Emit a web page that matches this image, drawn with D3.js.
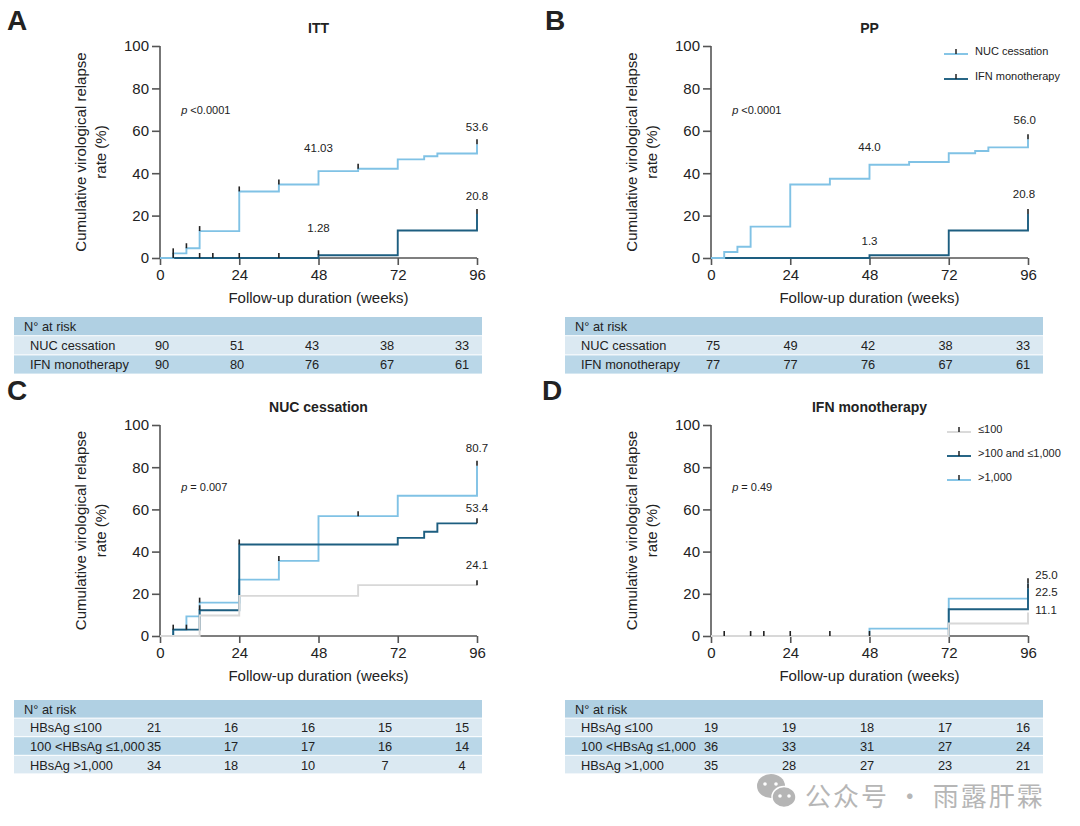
<!DOCTYPE html>
<html><head><meta charset="utf-8">
<script src="https://cdn.jsdelivr.net/npm/d3@7"></script>
<style>
body{margin:0;background:#fff;}
svg{display:block;font-family:"Liberation Sans",Arial,sans-serif;}
</style></head>
<body><svg id="chart" width="1080" height="826"></svg>
<script>
// ---------- data ----------
const weekTicks = [0, 24, 48, 72, 96];
const pctTicks = [0, 20, 40, 60, 80, 100];

// Panel A (ITT) step curves [week, cumulative %]
const A_nuc = [[0,0],[4,2.2],[8,4.6],[12,12.7],[24,31.4],[36,34.7],[48,41.0],[60,42.1],[72,46.5],[80,48.0],[84,49.3],[96,53.6]];
const A_nucCensor = [4,8,12,24,36,60,96];
const A_ifn = [[0,0],[48,1.28],[72,13.0],[96,20.8]];
const A_ifnCensor = [4,12,16,24,36,48,96];
const A_labels = [[48,52,"41.03"],[96,61.8,"53.6"],[96,29.2,"20.8"],[48,14.2,"1.28"]];

// Panel B (PP)
const B_nuc = [[0,0],[4,2.8],[8,5.3],[12,14.8],[24,34.7],[36,37.4],[48,44.0],[60,45.3],[72,49.4],[80,50.5],[84,52.2],[96,56.0]];
const B_nucCensor = [96];
const B_ifn = [[0,0],[48,1.3],[72,13.0],[96,20.8]];
const B_ifnCensor = [96];
const B_labels = [[95,65,"56.0"],[48,52.4,"44.0"],[94.8,30.2,"20.8"],[48,8,"1.3"]];

// Panel C (NUC cessation by HBsAg)
const C_low = [[0,0],[12,9.7],[24,19.0],[60,24.1],[96,24.1]];
const C_lowCensor = [96];
const C_mid = [[0,0],[4,3.0],[12,12.2],[24,43.4],[72,46.5],[80,49.4],[84,53.4],[96,53.4]];
const C_midCensor = [4,8,12,24,96];
const C_high = [[0,0],[4,3.0],[8,9.3],[12,15.8],[24,26.7],[36,35.6],[48,56.8],[72,66.5],[96,80.7]];
const C_highCensor = [12,36,60,96];
const C_labels = [[96,89.1,"80.7"],[96,60.7,"53.4"],[96,33.6,"24.1"]];

// Panel D (IFN monotherapy by HBsAg)
const D_low = [[0,0],[72,5.9],[96,11.1]];
const D_lowCensor = [4,12,16,24,36,48];
const D_mid = [[0,0],[72,12.7],[96,22.5]];
const D_midCensor = [96];
const D_high = [[0,0],[48,3.5],[72,17.7],[96,25.0]];
const D_highCensor = [96];
const D_labels = [[98.2,28.9,"25.0"],[98.2,20.9,"22.5"],[98.2,12.3,"11.1"]];

// legends
const legendAB = ["NUC cessation", "IFN monotherapy"];
const legendCD = ["\u2264100", ">100 and \u22641,000", ">1,000"];

// numbers at risk
const riskA_nuc = [90,51,43,38,33];
const riskA_ifn = [90,80,76,67,61];
const riskB_nuc = [75,49,42,38,33];
const riskB_ifn = [77,77,76,67,61];
const riskC_low = [21,16,16,15,15];
const riskC_mid = [35,17,17,16,14];
const riskC_high = [34,18,10,7,4];
const riskD_low = [19,19,18,17,16];
const riskD_mid = [36,33,31,27,24];
const riskD_high = [35,28,27,23,21];
const riskLabelsAB = ["NUC cessation", "IFN monotherapy"];
const riskLabelsCD = ["HBsAg \u2264100", "100 <HBsAg \u22641,000", "HBsAg >1,000"];

// ---------- styles ----------
const LIGHT = "#80c2e5", DARK = "#1d5e80", GRAY = "#d8d8d8";
const AXIS = "#555", TXT = "#222";

const svg = d3.select("#chart");

function panel(cfg) {
  const g = svg.append("g");
  const x = d3.scaleLinear().domain([0, 96]).range([cfg.x0, cfg.x1]);
  const y = d3.scaleLinear().domain([0, 100]).range([cfg.yb, cfg.yt]);

  g.append("text").attr("x", cfg.lx).attr("y", cfg.ly).attr("font-size", 28).attr("font-weight", "bold").attr("fill", "#222").text(cfg.letter);
  g.append("text").attr("x", (cfg.x0 + cfg.x1) / 2).attr("y", cfg.yt - 13).attr("text-anchor", "middle").attr("font-size", 14).attr("font-weight", "bold").attr("fill", TXT).text(cfg.title);

  const ya = g.append("g").attr("transform", `translate(${cfg.x0},0)`).call(d3.axisLeft(y).tickValues(pctTicks).tickSize(8).tickPadding(3));
  const xa = g.append("g").attr("transform", `translate(0,${cfg.yb})`).call(d3.axisBottom(x).tickValues(weekTicks).tickSize(7).tickPadding(4));
  [ya, xa].forEach(a => {
    a.select(".domain").attr("stroke", AXIS).attr("stroke-width", 1.6);
    a.selectAll(".tick line").attr("stroke", AXIS).attr("stroke-width", 1.6);
    a.selectAll(".tick text").attr("fill", TXT).attr("font-size", 15).attr("font-family", "Liberation Sans, Arial, sans-serif");
  });
  xa.select(".domain").attr("d", `M${cfg.x0},0H${cfg.x1}`);
  ya.select(".domain").attr("d", `M0,${cfg.yb}V${cfg.yt}`);

  g.append("text").attr("x", (cfg.x0 + cfg.x1) / 2).attr("y", cfg.yb + 45).attr("text-anchor", "middle").attr("font-size", 15).attr("fill", TXT).text("Follow-up duration (weeks)");
  const ym = (cfg.yt + cfg.yb) / 2;
  const yt = g.append("text").attr("transform", `translate(${cfg.x0 - 74},${ym}) rotate(-90)`).attr("text-anchor", "middle").attr("font-size", 15).attr("fill", TXT);
  yt.append("tspan").attr("x", 0).attr("dy", 0).text("Cumulative virological relapse");
  yt.append("tspan").attr("x", 0).attr("dy", 20).text("rate (%)");

  const line = d3.line().curve(d3.curveStepAfter).x(d => x(d[0])).y(d => y(d[1]));
  function valAt(data, w) {
    let v = 0;
    data.forEach(d => { if (d[0] <= w) v = d[1]; });
    return v;
  }
  cfg.series.forEach(s => {
    g.append("path").datum(s.data).attr("d", line).attr("fill", "none").attr("stroke", s.color).attr("stroke-width", 1.9);
  });
  cfg.series.forEach(s => {
    g.selectAll(null).data(s.censor).enter().append("line")
      .attr("x1", d => x(d)).attr("x2", d => x(d))
      .attr("y1", d => y(valAt(s.data, d))).attr("y2", d => y(valAt(s.data, d)) - 5)
      .attr("stroke", "#222").attr("stroke-width", 1.6);
  });

  g.selectAll(null).data(cfg.labels).enter().append("text")
    .attr("x", d => x(d[0])).attr("y", d => y(d[1])).attr("dy", "0.35em")
    .attr("text-anchor", cfg.labelAnchor).attr("font-size", 11.5).attr("fill", TXT).text(d => d[2]);

  const pt = g.append("text").attr("x", x(6.4)).attr("y", y(cfg.pY)).attr("dy", "0.35em").attr("font-size", 11).attr("fill", TXT);
  pt.append("tspan").attr("font-style", "italic").text("p");
  pt.append("tspan").text(cfg.p);

  if (cfg.legend) {
    cfg.legend.forEach((name, i) => {
      const ly = cfg.legY + i * cfg.legGap;
      g.append("line").attr("x1", cfg.legX).attr("x2", cfg.legX + 24).attr("y1", ly).attr("y2", ly).attr("stroke", cfg.legColors[i]).attr("stroke-width", 1.9);
      g.append("line").attr("x1", cfg.legX + 12).attr("x2", cfg.legX + 12).attr("y1", ly).attr("y2", ly - 5).attr("stroke", "#222").attr("stroke-width", 1.5);
      g.append("text").attr("x", cfg.legX + 31).attr("y", ly).attr("dy", "0.1em").attr("font-size", 11).attr("fill", TXT).text(name);
    });
  }

  const t = cfg.table;
  const colX = d3.scaleLinear().domain([0, 96]).range(t.colRange);
  const rowColors = ["#dbe9f2", "#bad7e8"];
  g.append("rect").attr("x", t.x).attr("y", t.y).attr("width", t.w).attr("height", t.h - 1).attr("fill", "#b0d0e3");
  g.append("text").attr("x", t.x + 10).attr("y", t.y + t.h / 2).attr("dy", "0.35em").attr("font-size", 12.8).attr("fill", TXT).text("N\u00b0 at risk");
  t.rows.forEach((r, i) => {
    const ry = t.y + t.h * (i + 1);
    g.append("rect").attr("x", t.x).attr("y", ry).attr("width", t.w).attr("height", t.h - 1).attr("fill", rowColors[i % 2]);
    g.append("text").attr("x", t.x + 16).attr("y", ry + t.h / 2).attr("dy", "0.35em").attr("font-size", 12.8).attr("fill", TXT).text(t.labels[i]);
    g.selectAll(null).data(r).enter().append("text")
      .attr("x", (d, j) => colX(weekTicks[j])).attr("y", ry + t.h / 2).attr("dy", "0.35em")
      .attr("text-anchor", "middle").attr("font-size", 12.8).attr("fill", TXT).text(d => d);
  });
}

panel({letter: "A", lx: 7, ly: 30, title: "ITT", x0: 160, x1: 477, yt: 46, yb: 258,
  series: [{data: A_ifn, censor: A_ifnCensor, color: DARK}, {data: A_nuc, censor: A_nucCensor, color: LIGHT}],
  labels: A_labels, labelAnchor: "middle", p: " <0.0001", pY: 69.8,
  table: {x: 14, y: 317, w: 468, h: 19.2, colRange: [162, 462], rows: [riskA_nuc, riskA_ifn], labels: riskLabelsAB}});

panel({letter: "B", lx: 545, ly: 30, title: "PP", x0: 711, x1: 1028, yt: 46, yb: 258,
  series: [{data: B_ifn, censor: B_ifnCensor, color: DARK}, {data: B_nuc, censor: B_nucCensor, color: LIGHT}],
  labels: B_labels, labelAnchor: "middle", p: " <0.0001", pY: 69.8,
  legend: legendAB, legColors: [LIGHT, DARK], legX: 944, legY: 54, legGap: 25,
  table: {x: 565, y: 317, w: 478, h: 19.2, colRange: [713, 1023], rows: [riskB_nuc, riskB_ifn], labels: riskLabelsAB}});

panel({letter: "C", lx: 7, ly: 400, title: "NUC cessation", x0: 160, x1: 477, yt: 425, yb: 636,
  series: [{data: C_high, censor: C_highCensor, color: LIGHT}, {data: C_mid, censor: C_midCensor, color: DARK}, {data: C_low, censor: C_lowCensor, color: GRAY}],
  labels: C_labels, labelAnchor: "middle", p: " = 0.007", pY: 70.6,
  table: {x: 14, y: 700, w: 468, h: 18.6, colRange: [154, 462], rows: [riskC_low, riskC_mid, riskC_high], labels: riskLabelsCD}});

panel({letter: "D", lx: 542, ly: 400, title: "IFN monotherapy", x0: 711, x1: 1028, yt: 425, yb: 636,
  series: [{data: D_high, censor: D_highCensor, color: LIGHT}, {data: D_mid, censor: D_midCensor, color: DARK}, {data: D_low, censor: D_lowCensor, color: GRAY}],
  labels: D_labels, labelAnchor: "start", p: " = 0.49", pY: 70.6,
  legend: legendCD, legColors: [GRAY, DARK, LIGHT], legX: 947, legY: 432, legGap: 24,
  table: {x: 565, y: 700, w: 478, h: 18.6, colRange: [711, 1023], rows: [riskD_low, riskD_mid, riskD_high], labels: riskLabelsCD}});

// watermark
const wm = svg.append("g").attr("opacity", 0.85);
wm.append("ellipse").attr("cx", 771).attr("cy", 786).attr("rx", 14).attr("ry", 12).attr("fill", "#a9a9a9");
wm.append("ellipse").attr("cx", 784).attr("cy", 797).attr("rx", 12).attr("ry", 10.5).attr("fill", "#a9a9a9").attr("stroke", "#fff").attr("stroke-width", 1.5);
[[765,784],[776,784],[780,796],[789,796]].forEach(p => wm.append("circle").attr("cx", p[0]).attr("cy", p[1]).attr("r", 1.8).attr("fill", "#fff"));
wm.append("text").attr("x", 805).attr("y", 797).attr("dy", "0.35em").attr("font-size", 26).attr("letter-spacing", 2)
  .attr("font-family", "Noto Sans CJK SC").attr("fill", "#aaa").text("公众号 · 雨露肝霖");
</script></body></html>
